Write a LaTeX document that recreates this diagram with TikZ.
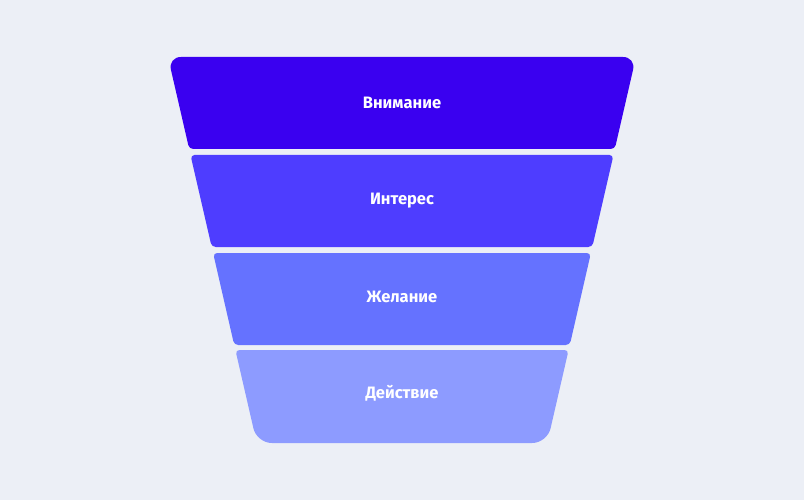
\documentclass[tikz,border=0pt]{standalone}
\usepackage{fontspec}
\setmainfont{Fira Sans}
\usepackage{xcolor}
\definecolor{BgColor}{HTML}{ECEFF6}
\definecolor{StageA}{HTML}{3A00F0}
\definecolor{StageB}{HTML}{4E3DFF}
\definecolor{StageC}{HTML}{6572FF}
\definecolor{StageD}{HTML}{8D9BFF}
\tikzstyle{stagelabel} = [text=white, font=\bfseries\fontsize{16.5}{19}\selectfont]
\tikzset{x=1pt, y=-1pt}

\begin{document}
\begin{tikzpicture}
\fill[BgColor] (0,0) rectangle (804,500);
% funnel stages, top to bottom
\fill[StageA] (402,57) [rounded corners=13pt] -- (168,57) [rounded corners=4pt] -- (189.2,149) -- (614.8,149) [rounded corners=13pt] -- (636,57) -- cycle;
\fill[StageB] (402,155) [rounded corners=4pt] -- (190.5,155) -- (211.7,247) -- (592.3,247) -- (613.5,155) -- cycle;
\fill[StageC] (402,253) [rounded corners=4pt] -- (213.1,253) -- (234.2,345) -- (569.8,345) -- (590.9,253) -- cycle;
\fill[StageD] (402,350) [rounded corners=4pt] -- (235.4,350) [rounded corners=15pt] -- (256.8,443) -- (547.2,443) [rounded corners=4pt] -- (568.6,350) -- cycle;
\node[stagelabel] (attention) at (402,103) {Внимание};
\node[stagelabel] (interest) at (402,201) {Интерес};
\node[stagelabel] (desire) at (402,297) {Желание};
\node[stagelabel] (action) at (402,393) {Действие};
\end{tikzpicture}
\end{document}
